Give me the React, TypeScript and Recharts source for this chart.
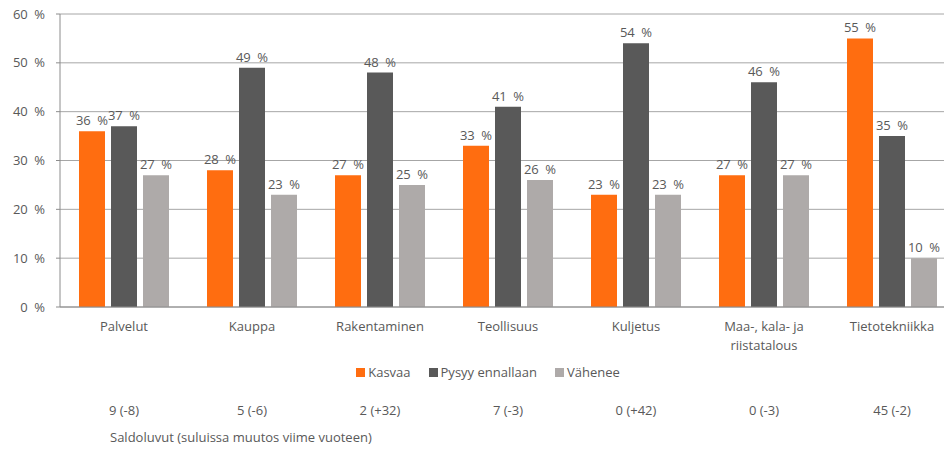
import { BarChart, Bar, XAxis, YAxis, CartesianGrid, Legend, LabelList, Text } from "recharts";

const categories = [
  "Palvelut",
  "Kauppa",
  "Rakentaminen",
  "Teollisuus",
  "Kuljetus",
  "Maa-, kala- ja riistatalous",
  "Tietotekniikka",
];
const kasvaa = [36, 28, 27, 33, 23, 27, 55];
const pysyy = [37, 49, 48, 41, 54, 46, 35];
const vahenee = [27, 23, 25, 26, 23, 27, 10];
const saldo = ["9 (-8)", "5 (-6)", "2 (+32)", "7 (-3)", "0 (+42)", "0 (-3)", "45 (-2)"];
const yTicks = [0, 10, 20, 30, 40, 50, 60];

const data = categories.map((name, i) => ({
  name,
  kasvaa: kasvaa[i],
  pysyy: pysyy[i],
  vahenee: vahenee[i],
}));

const FONT = "'Open Sans', sans-serif";
const TEXT = "#595959";
const ORANGE = "#ff6d10";
const DARK = "#595959";
const LIGHT = "#aeaaa9";

const pct = (v: number) => `${v}\u2002%`;

function CategoryTick(props: any) {
  const { x, y, payload, index } = props;
  return (
    <g>
      <Text
        x={x}
        y={y + 15}
        width={110}
        textAnchor="middle"
        verticalAnchor="start"
        lineHeight={19}
        fill={TEXT}
        fontSize={13}
        fontFamily={FONT}
      >
        {payload.value}
      </Text>
      <text x={x} y={y + 108} textAnchor="middle" fill={TEXT} fontSize={13} fontFamily={FONT}>
        {saldo[index]}
      </text>
    </g>
  );
}

function LegendContent(props: any) {
  const { payload } = props;
  return (
    <div style={{ display: "flex", justifyContent: "center", alignItems: "center", height: 20 }}>
      {payload.map((p: any) => (
        <div key={p.value} style={{ display: "flex", alignItems: "center", marginRight: 18 }}>
          <span style={{ width: 9, height: 9, background: p.color, display: "inline-block", marginRight: 3 }} />
          <span style={{ fontFamily: FONT, fontSize: 13, color: TEXT }}>{p.value}</span>
        </div>
      ))}
    </div>
  );
}

export default function App() {
  return (
    <div style={{ position: "absolute", left: 0, top: 0, width: 944, height: 449, overflow: "hidden", background: "#fff" }}>
      <BarChart
        width={960}
        height={449}
        data={data}
        margin={{ top: 14, right: 4, left: 0, bottom: 112 }}
        barCategoryGap={19}
        barGap={6}
      >
        <CartesianGrid vertical={false} stroke="#a6a6a6" />
        <XAxis
          dataKey="name"
          axisLine={{ stroke: "#8c8c8c" }}
          tickLine={false}
          tickSize={0}
          tickMargin={0}
          height={30}
          interval={0}
          tick={<CategoryTick />}
        />
        <YAxis
          domain={[0, 60]}
          ticks={yTicks}
          width={60}
          tickSize={4}
          tickMargin={11}
          tickFormatter={pct}
          axisLine={{ stroke: "#8c8c8c" }}
          tickLine={{ stroke: "#8c8c8c" }}
          tick={{ fill: TEXT, fontSize: 13, fontFamily: FONT }}
        />
        <Legend
          verticalAlign="middle"
          align="center"
          layout="horizontal"
          wrapperStyle={{ top: 362, left: 188, width: 618 }}
          content={<LegendContent />}
        />
        <Bar dataKey="kasvaa" name="Kasvaa" fill={ORANGE} isAnimationActive={false}>
          <LabelList dataKey="kasvaa" position="top" offset={6} formatter={pct} fill={TEXT} fontSize={13} fontFamily={FONT} />
        </Bar>
        <Bar dataKey="pysyy" name="Pysyy ennallaan" fill={DARK} isAnimationActive={false}>
          <LabelList dataKey="pysyy" position="top" offset={6} formatter={pct} fill={TEXT} fontSize={13} fontFamily={FONT} />
        </Bar>
        <Bar dataKey="vahenee" name="Vähenee" fill={LIGHT} isAnimationActive={false}>
          <LabelList dataKey="vahenee" position="top" offset={6} formatter={pct} fill={TEXT} fontSize={13} fontFamily={FONT} />
        </Bar>
      </BarChart>
      <div
        style={{
          position: "absolute",
          left: 110,
          top: 428,
          fontFamily: FONT,
          fontSize: 13,
          lineHeight: "18px",
          color: TEXT,
          whiteSpace: "nowrap",
        }}
      >
        Saldoluvut (suluissa muutos viime vuoteen)
      </div>
    </div>
  );
}
